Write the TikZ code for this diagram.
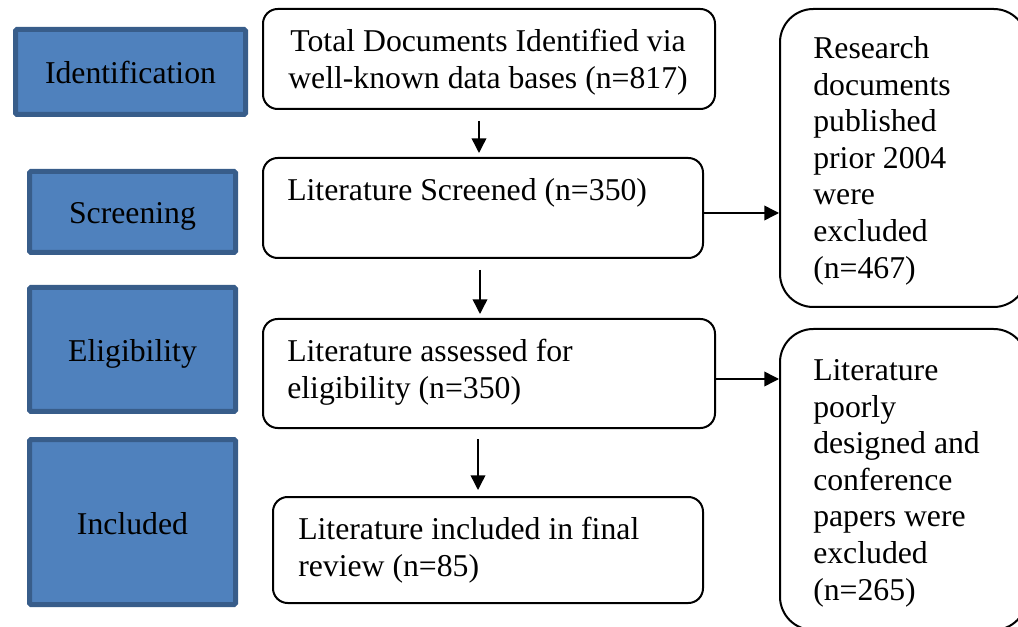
\documentclass[tikz,border=0pt]{standalone}
\usepackage{fontspec}
\setmainfont{Liberation Serif}
\usetikzlibrary{arrows.meta,fit}
\definecolor{bfill}{HTML}{4F81BD}
\definecolor{bline}{HTML}{385D8A}
\begin{document}
\begin{tikzpicture}[x=0.75pt,y=-0.75pt,
  every node/.style={font=\fontsize{23.8}{27.4}\selectfont},
  bluebox/.style={draw=bline, fill=bfill, line width=3.75pt, rounded corners=1pt, inner sep=0pt, text height=18pt, text depth=0pt, minimum width=154.5pt},
  mainbox/.style={draw, line width=1.5pt, rounded corners=11pt, inner sep=0pt},
  sidebox/.style={draw, line width=1.5pt, rounded corners=25pt, inner sep=0pt},
  txt/.style={inner sep=0pt, anchor=north west, align=left},
  arr/.style={-{Triangle[length=11pt,width=11pt]}, line width=1.1pt}]
\clip (0,0) rectangle (1018,627);
% stage boxes
\node[bluebox, minimum width=172.5pt, minimum height=63.75pt] (id) at (130.5,72) {Identification};
\node[bluebox, minimum height=60.75pt] (sc) at (132.5,212) {Screening};
\node[bluebox, minimum height=93pt] (el) at (132.5,349.5) {Eligibility};
\node[bluebox, minimum height=123.75pt] (in) at (132.5,522) {Included};
% main boxes
\node[mainbox, fit={(263,9) (715,109)}] (b1) {};
\node[mainbox, fit={(263,158) (703,258)}] (b2) {};
\node[mainbox, fit={(263,319) (715,428)}] (b3) {};
\node[mainbox, fit={(273,497) (703,603)}] (b4) {};
% side boxes
\node[sidebox, fit={(780,9) (1027,307)}] (r1) {};
\node[sidebox, fit={(780,329) (1027,630)}] (r2) {};
% texts
\node[inner sep=0pt, anchor=north, align=center] (t1) at (488,26) {\strut Total Documents Identified via\\well-known data bases (n=817)};
\node[txt] (t2) at (287,175) {\strut Literature Screened (n=350)};
\node[txt] (t3) at (287,336) {\strut Literature assessed for\\eligibility (n=350)};
\node[txt] (t4) at (298,514) {\strut Literature included in final\\review (n=85)};
\node[txt] (t5) at (813,33) {\strut Research\\documents\\published\\prior 2004\\were\\excluded\\(n=467)};
\node[txt] (t6) at (813,355) {\strut Literature\\poorly\\designed and\\conference\\papers were\\excluded\\(n=265)};
% arrows
\draw[arr] ([shift={(-10,11)}]b1.south) -- ([shift={(-4,-4)}]b2.north);
\draw[arr] ([shift={(-3,11)}]b2.south) -- ([shift={(-9,-4)}]b3.north);
\draw[arr] ([shift={(-11,10)}]b3.south) -- ([shift={(-10,-6)}]b4.north);
\coordinate (h1) at ([shift={(0,5)}]b2.east);
\coordinate (h2) at ([shift={(0,5.5)}]b3.east);
\draw[arr] (h1) -- (h1 -| r1.west);
\draw[arr] (h2) -- (h2 -| r2.west);
\end{tikzpicture}
\end{document}
